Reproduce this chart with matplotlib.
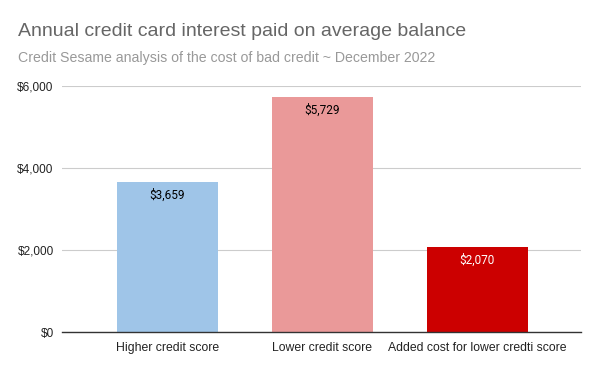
import matplotlib
matplotlib.use("Agg")
import matplotlib.pyplot as plt
from matplotlib.ticker import FuncFormatter

categories = ["Higher credit score", "Lower credit score", "Added cost for lower credti score"]
values = [3659, 5729, 2070]
colors = ["#9fc5e8", "#ea9999", "#cc0000"]
label_colors = ["#000000", "#000000", "#ffffff"]
yticks = [0, 2000, 4000, 6000]

plt.rcParams['font.family'] = ['Liberation Sans', 'DejaVu Sans']

fig = plt.figure(figsize=(6, 3.71), dpi=100)
ax = fig.add_axes([0.1033, 0.1051, 0.865, 0.6631])

x = list(range(len(categories)))
bars = ax.bar(x, values, width=0.655, color=colors, zorder=2)
for b, v, c in zip(bars, values, label_colors):
    ax.text(b.get_x() + b.get_width() / 2, v - 150, f"${v:,}", ha="center", va="top",
            fontsize=8.5, color=c, family=['Roboto', 'DejaVu Sans'], zorder=3)

ax.set_xlim(-0.68, 2.668)
ax.set_ylim(0, 6000)
ax.set_yticks(yticks)
ax.yaxis.set_major_formatter(FuncFormatter(lambda v, p: f"${int(v):,}"))
ax.set_xticks(x)
ax.set_xticklabels(categories)
ax.grid(axis="y", color="#cccccc", linewidth=0.8, zorder=0)
for s in ["top", "right", "left"]:
    ax.spines[s].set_visible(False)
ax.spines["bottom"].set_color("#333333")
ax.spines["bottom"].set_linewidth(1)
ax.spines["bottom"].set_zorder(4)
ax.tick_params(axis="both", length=0, labelsize=8.5, colors="#222222")
ax.tick_params(axis="x", labelsize=8.8, pad=7)
ax.tick_params(axis="y", pad=6)

fig.text(18 / 600, 1 - 32 / 371, "Annual credit card interest paid on average balance",
         fontsize=14, color="#666666", va="center", ha="left")
fig.text(18 / 600, 1 - 58 / 371, "Credit Sesame analysis of the cost of bad credit ~ December 2022",
         fontsize=10.2, color="#999999", va="center", ha="left")

fig.savefig("out.png", dpi=100)
